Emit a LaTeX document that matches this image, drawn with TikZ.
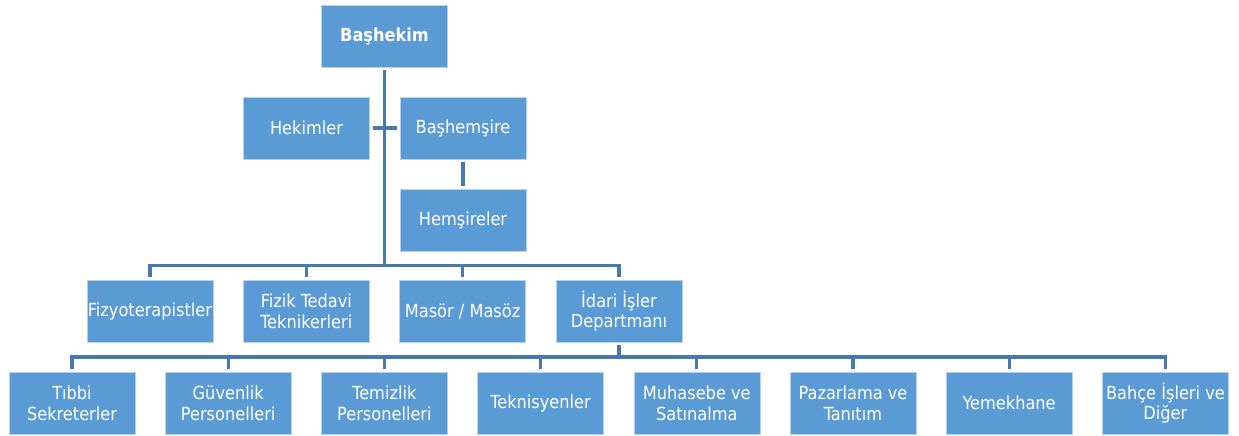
\documentclass[tikz,border=0pt]{standalone}
\usepackage{fontspec}
\setmainfont{DejaVu Sans Condensed}
\definecolor{boxblue}{HTML}{5B9BD5}
\definecolor{lineblue}{HTML}{4678B4}
\begin{document}
\begin{tikzpicture}[x=1pt,y=1pt,
    unit/.style={fill=boxblue, draw=white!55!boxblue, line width=.6pt,
      minimum width=126pt, minimum height=62pt, inner sep=0pt, outer sep=3pt,
      text=white, align=center,
      font=\fontsize{18}{20.5}\selectfont},
    link/.style={lineblue, line width=3.2pt}]
        \useasboundingbox (0,0) rectangle (1239,-436);
        % top part
        \node[unit, font=\fontsize{18}{20.5}\selectfont\bfseries] (bas) at (384.5,-36.5) {Başhekim};
        \node[unit] (hek) at (306.5,-128) {Hekimler};
        \node[unit] (bhs) at (463,-128) {Başhemşire};
        \node[unit] (hem) at (463,-220) {Hemşireler};
        % second row
        \node[unit] (r1) at (150,-311.3) {Fizyoterapistler};
        \node[unit] (r2) at (306.3,-311.3) {Fizik Tedavi\\Teknikerleri};
        \node[unit] (r3) at (462.6,-311.3) {Masör / Masöz};
        \node[unit] (r4) at (619,-311.3) {İdari İşler\\Departmanı};
        % third row
        \foreach \i/\txt in {0/{Tıbbi\\Sekreterler}, 1/{Güvenlik\\Personelleri},
                             2/{Temizlik\\Personelleri}, 3/Teknisyenler,
                             4/{Muhasebe ve\\Satınalma}, 5/{Pazarlama ve\\Tanıtım},
                             6/Yemekhane, 7/{Bahçe İşleri ve\\Diğer}}{
          \node[unit] (d\i) at (72+156.2*\i,-403.2) {\txt};
        }
        \coordinate (lv2) at (384.5,-265.3);
        \coordinate (lv3) at (619,-357);
        \draw[link] (bas.south) -- (lv2);
        \draw[link] (hek.east) -- (bhs.west);
        \draw[link] (bhs.south) -- (hem.north);
        \draw[link] (r1.north) |- (lv2) -| (r4.north);
        \draw[link] (r2.north) -- (r2.north |- lv2);
        \draw[link] (r3.north) -- (r3.north |- lv2);
        \draw[link] (r4.south) -- (lv3);
        \draw[link] (d0.north) |- (lv3) -| (d7.north);
        \foreach \i in {1,...,6}{
          \draw[link] (d\i.north) -- (d\i.north |- lv3);
        }
\end{tikzpicture}
\end{document}
